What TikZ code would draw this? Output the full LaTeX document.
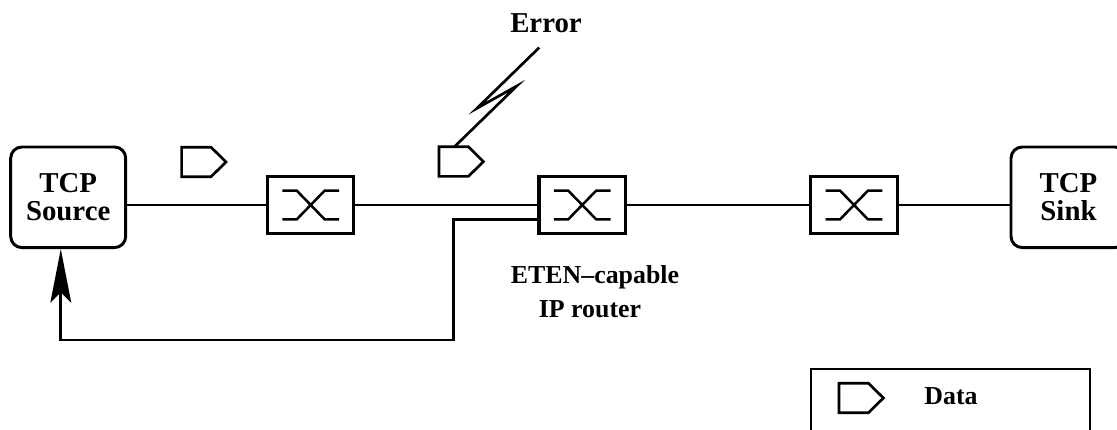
\documentclass[tikz,border=0pt]{standalone}
\usepackage{fontspec}
\setmainfont{Liberation Serif}
\usetikzlibrary{arrows.meta, positioning, calc}

\begin{document}
\begin{tikzpicture}[
    host/.style={rectangle, rounded corners=8pt, draw=black, line width=2.1pt, minimum width=28.75mm, minimum height=25.15mm, align=center, font=\fontsize{20.5}{20.3}\selectfont\bfseries, inner sep=0pt},
    router/.style={rectangle, draw=black, line width=2.2pt, minimum width=21.6mm, minimum height=14.4mm},
    label/.style={font=\fontsize{18.4}{20}\selectfont\bfseries, anchor=base, inner sep=0pt},
    link/.style={line width=1.9pt},
    xover/.style={line width=1.8pt},
    packet/.style={line width=1.9pt, line join=miter},
    arrow/.style={-{Stealth[length=13.4mm, width=5.2mm, inset=2.6mm]}, line width=1.9pt}
]
\useasboundingbox (0,0) rectangle (27.925,10.75);
\clip (0,0) rectangle (27.925,10.75);

% End hosts and routers
\node[host] (source) at (1.705,5.8175) {TCP\\Source};
\node[router] (rtr1) at (7.7675,5.625) {};
\node[router] (rtr2) at (14.555,5.625) {};
\node[router] (rtr3) at (21.35,5.625) {};
\node[host] (sink) at (26.7125,5.8175) {TCP\\Sink};

\foreach \r in {rtr1,rtr2,rtr3} {
  \draw[xover, shift={(\r)}] (-.71,.36) -- (-.35,.36) -- (.35,-.36) -- (.71,-.36);
  \draw[xover, shift={(\r)}] (-.71,-.36) -- (-.35,-.36) -- (.35,.36) -- (.71,.36);
}

% Forward path
\draw[link] (source.east |- rtr1.west) -- (rtr1.west);
\draw[link] (rtr1.east) -- (rtr2.west);
\draw[link] (rtr2.east) -- (rtr3.west);
\draw[link] (rtr3.east) -- (sink.west |- rtr3.east);

% Return path
\coordinate (bend) at (11.34,2.25);
\coordinate (turn) at (1.52,2.25);
\draw[arrow] ($(rtr2.west)+(0,-.36)$) -| (bend) -- (turn) -- (turn |- source.south);

% Packets
\foreach \x/\y/\n in {4.54/6.70/pkta, 10.975/6.71/pktb, 20.975/.8/pktc} {
  \coordinate (\n) at (\x,\y);
  \draw[packet, shift={(\n)}] (0,.37) -- (.735,.37) -- (1.11,0) -- (.735,-.37) -- (0,-.37) -- cycle;
}

% Error bolt
\coordinate (bolttop) at (13.48,9.56);
\coordinate (boltbot) at (11.36,7.08);
\draw[link, miter limit=20] (bolttop) -- (11.92,8.04) -- (12.92,8.6) -- (boltbot);
\node[label, font=\fontsize{20.5}{22}\selectfont\bfseries] (error) at (13.65,9.93) {Error};

\node[label] (eten) at (14.875,3.65) {ETEN--capable};
\node[label] (iprouter) at (14.75,2.8) {IP router};

% Legend
\node[router, line width=1.8pt, minimum width=69.8mm, minimum height=30mm] (legend) at (23.76,.025) {};
\node[label] (data) at (23.775,.625) {Data};

\end{tikzpicture}
\end{document}
